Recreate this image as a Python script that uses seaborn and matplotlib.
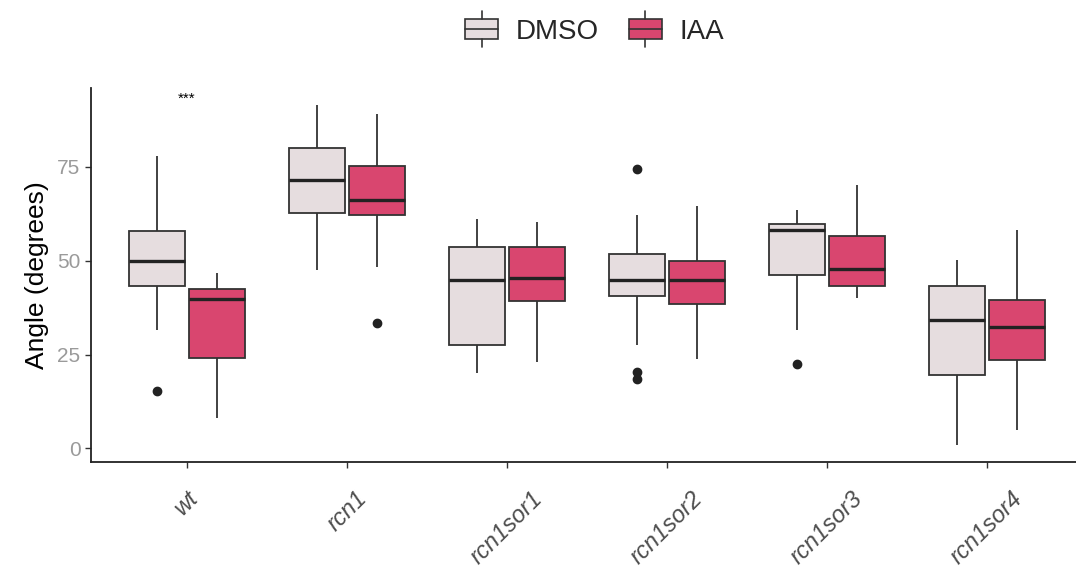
import numpy as np
import pandas as pd
import matplotlib
matplotlib.use("Agg")
import matplotlib.pyplot as plt
import matplotlib.patches as mpatches
from matplotlib.lines import Line2D
from matplotlib.legend_handler import HandlerBase
import seaborn as sns

genotypes = ["wt", "rcn1", "rcn1sor1", "rcn1sor2", "rcn1sor3", "rcn1sor4"]
treatments = ["DMSO", "IAA"]

wt_dmso = [15.3, 31.5, 38.0, 43.2, 45.5, 48.0, 49.8, 52.0, 55.0, 57.9, 62.0, 69.0, 77.8]
wt_iaa = [8.0, 14.0, 19.0, 24.2, 30.0, 36.0, 39.9, 40.5, 41.5, 42.4, 44.0, 45.5, 46.8]
rcn1_dmso = [47.4, 54.0, 59.0, 62.6, 65.0, 68.5, 71.4, 74.0, 77.0, 80.1, 84.0, 88.0, 91.4]
rcn1_iaa = [33.3, 48.4, 56.0, 62.1, 63.5, 65.0, 66.1, 69.0, 72.0, 75.3, 79.0, 84.0, 89.1]
sor1_dmso = [20.2, 23.0, 25.0, 27.5, 33.0, 40.0, 45.0, 48.0, 51.0, 53.6, 56.0, 59.0, 61.2]
sor1_iaa = [22.9, 30.0, 35.0, 39.2, 41.5, 43.5, 45.4, 48.0, 51.0, 53.6, 56.0, 58.0, 60.3]
sor2_dmso = [18.5, 20.3, 27.6, 40.6, 42.0, 43.5, 45.0, 47.0, 49.5, 51.9, 56.0, 62.3, 74.5]
sor2_iaa = [23.9, 30.0, 35.0, 38.6, 41.0, 43.0, 45.0, 46.5, 48.0, 49.9, 54.0, 59.0, 64.7]
sor3_dmso = [22.6, 31.5, 40.0, 46.1, 50.0, 54.0, 58.1, 58.6, 59.2, 59.8, 61.0, 62.5, 63.6]
sor3_iaa = [40.0, 41.5, 42.5, 43.2, 45.0, 46.5, 47.9, 50.0, 53.0, 56.5, 60.0, 65.0, 70.3]
sor4_dmso = [0.9, 8.0, 14.0, 19.5, 24.0, 29.0, 34.2, 37.0, 40.0, 43.2, 45.5, 48.0, 50.1]
sor4_iaa = [4.9, 12.0, 18.0, 23.6, 27.0, 30.0, 32.3, 34.5, 37.0, 39.5, 44.0, 51.0, 58.1]

dmso_sets = [wt_dmso, rcn1_dmso, sor1_dmso, sor2_dmso, sor3_dmso, sor4_dmso]
iaa_sets = [wt_iaa, rcn1_iaa, sor1_iaa, sor2_iaa, sor3_iaa, sor4_iaa]

# significance mark above wt
signif_label = "***"
signif_y = 93

# build long table for seaborn
rows = []
for g, d, i in zip(genotypes, dmso_sets, iaa_sets):
    rows += [(g, "DMSO", v) for v in d]
    rows += [(g, "IAA", v) for v in i]
df = pd.DataFrame(rows, columns=["genotype", "treatment", "angle"])

colors = {"DMSO": "#E6DDDF", "IAA": "#D9466F"}
line_col = "#333333"

sns.set_style("white")
plt.rcParams["font.family"] = ["Liberation Sans", "DejaVu Sans"]

fig = plt.figure(figsize=(10.76, 5.78), dpi=100)
ax = fig.add_axes([91 / 1076, 1 - 462 / 578, (1083 - 91) / 1076, (462 - 88) / 578])

sns.boxplot(data=df, x="genotype", y="angle", hue="treatment",
            order=genotypes, hue_order=treatments, palette=colors, saturation=1,
            width=0.75, gap=0.08, linewidth=1.3, linecolor=line_col,
            showcaps=False, ax=ax,
            medianprops=dict(color="#222222", linewidth=2.4),
            flierprops=dict(marker="o", markerfacecolor="#222222",
                            markeredgecolor="#222222", markersize=6))

ax.text(0, signif_y, signif_label, ha="center", va="center", fontsize=11, color="black")

ax.set_xlim(-0.6, 5.6)
ax.set_ylim(-3.6, 96)
ax.set_yticks([0, 25, 50, 75])
ax.set_xlabel("")
ax.set_ylabel("Angle (degrees)", fontsize=19, color="black", labelpad=6)
ax.tick_params(axis="y", labelsize=15, labelcolor="#9A9A9A", length=4, width=1, color=line_col, left=True)
ax.tick_params(axis="x", labelsize=17, labelcolor="#4D4D4D", length=4, width=1, color=line_col,
               bottom=True, pad=14)
for lab in ax.get_xticklabels():
    lab.set_rotation(45)
    lab.set_style("italic")
    lab.set_ha("center")

sns.despine(ax=ax)
for s in ["left", "bottom"]:
    ax.spines[s].set_color("#222222")
    ax.spines[s].set_linewidth(1.3)

ax.legend_.remove()


# ggplot-like boxplot key
class BoxKey(HandlerBase):
    def create_artists(self, legend, orig_handle, xdescent, ydescent,
                       width, height, fontsize, trans):
        x0, y0 = -xdescent, -ydescent
        cx = x0 + width / 2
        rect = mpatches.Rectangle((x0 + 1, y0 + height * 0.05), width - 2, height * 0.9,
                                  facecolor=orig_handle.get_facecolor(),
                                  edgecolor=line_col, lw=1.2, transform=trans)
        mid = Line2D([x0 + 1, x0 + width - 1], [y0 + height / 2] * 2,
                     color=line_col, lw=1.2, transform=trans)
        top = Line2D([cx, cx], [y0 + height * 0.95, y0 + height * 1.3],
                     color=line_col, lw=1.2, transform=trans)
        bot = Line2D([cx, cx], [y0 + height * 0.05, y0 - height * 0.3],
                     color=line_col, lw=1.2, transform=trans)
        return [rect, mid, top, bot]


handles = [mpatches.Patch(facecolor=colors[t], label=t) for t in treatments]
fig.legend(handles=handles, loc="center", bbox_to_anchor=(594 / 1076, 1 - 31 / 578),
           ncol=2, frameon=False, fontsize=20, handlelength=1.3, handleheight=0.9,
           columnspacing=1.0, handletextpad=0.6,
           handler_map={mpatches.Patch: BoxKey()})

fig.savefig("out.png", dpi=100)
